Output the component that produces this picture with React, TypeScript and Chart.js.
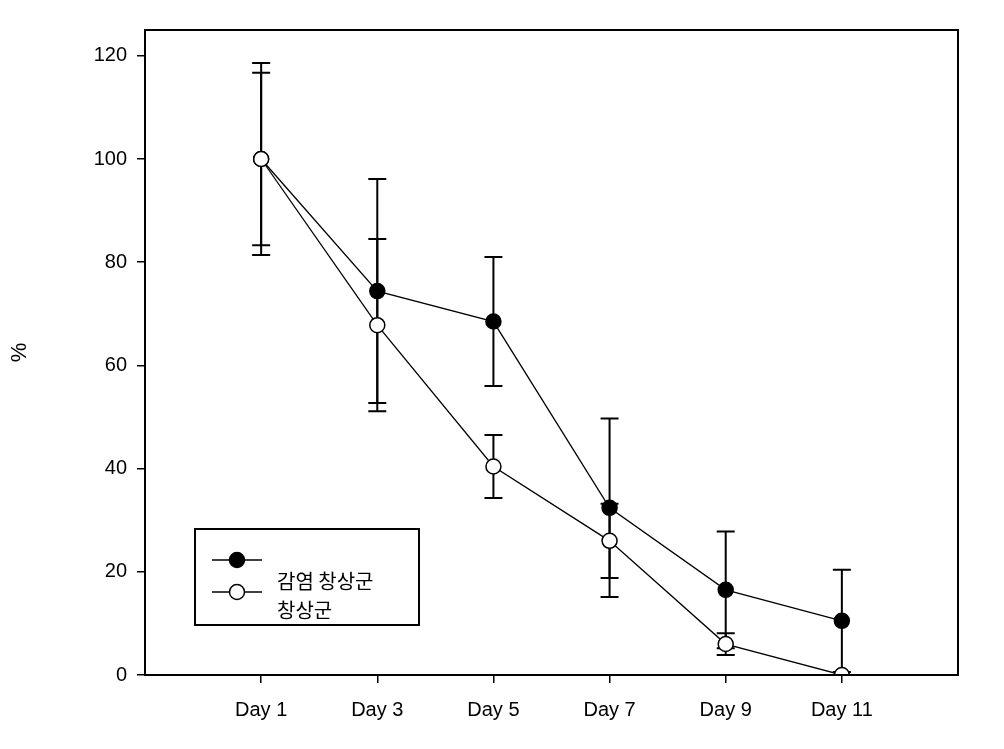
import React, { useEffect, useRef } from "react";
import { Chart, registerables } from "chart.js";

Chart.register(...registerables);

const dayLabels = ["Day 1", "Day 3", "Day 5", "Day 7", "Day 9", "Day 11"];
const dayPositions = [1, 2, 3, 4, 5, 6];
const yTicks = [0, 20, 40, 60, 80, 100, 120];

const infectedLabel = "감염 창상군";
const infectedMean = [100, 74.4, 68.5, 32.4, 16.5, 10.5];
const infectedErr = [18.6, 21.7, 12.5, 17.3, 11.3, 9.9];

const woundLabel = "창상군";
const woundMean = [100, 67.8, 40.4, 26.0, 6.0, 0];
const woundErr = [16.7, 16.7, 6.1, 7.2, 2.1, 0];

const FONT = "'Liberation Sans', Arial, sans-serif";

const errorBarPlugin = {
  id: "errorBars",
  beforeDatasetsDraw(chart: any) {
    const { ctx, scales } = chart;
    const x = scales.x;
    const y = scales.y;
    const series = [
      { mean: infectedMean, err: infectedErr },
      { mean: woundMean, err: woundErr },
    ];
    ctx.save();
    ctx.strokeStyle = "#000";
    ctx.lineWidth = 2;
    const cap = 9;
    series.forEach((s) => {
      s.mean.forEach((m, i) => {
        const e = s.err[i];
        if (!e) return;
        const px = x.getPixelForValue(dayPositions[i]);
        const top = y.getPixelForValue(m + e);
        const bot = y.getPixelForValue(m - e);
        ctx.beginPath();
        ctx.moveTo(px, top);
        ctx.lineTo(px, bot);
        ctx.moveTo(px - cap, top);
        ctx.lineTo(px + cap, top);
        ctx.moveTo(px - cap, bot);
        ctx.lineTo(px + cap, bot);
        ctx.stroke();
      });
    });
    ctx.restore();
  },
};

const framePlugin = {
  id: "frameAndLegend",
  afterDraw(chart: any) {
    const { ctx, chartArea } = chart;
    const { left, right, top, bottom } = chartArea;
    ctx.save();
    ctx.strokeStyle = "#000";
    ctx.lineWidth = 2;
    ctx.strokeRect(left, top, right - left, bottom - top);

    // legend box
    const bx = left + 50;
    const by = bottom - 146;
    const bw = 224;
    const bh = 96;
    ctx.fillStyle = "#fff";
    ctx.fillRect(bx, by, bw, bh);
    ctx.lineWidth = 2;
    ctx.strokeRect(bx, by, bw, bh);

    const entries = [
      { fill: "#000", y: by + 31, label: infectedLabel, ty: by + 52 },
      { fill: "#fff", y: by + 63, label: woundLabel, ty: by + 81 },
    ];
    entries.forEach((en) => {
      ctx.beginPath();
      ctx.lineWidth = 1.5;
      ctx.moveTo(bx + 17, en.y);
      ctx.lineTo(bx + 67, en.y);
      ctx.stroke();
      ctx.beginPath();
      ctx.arc(bx + 42, en.y, 7.5, 0, Math.PI * 2);
      ctx.fillStyle = en.fill;
      ctx.fill();
      ctx.lineWidth = 1.5;
      ctx.stroke();
      ctx.fillStyle = "#000";
      ctx.font = "20px 'Noto Sans CJK KR', sans-serif";
      ctx.textBaseline = "middle";
      ctx.textAlign = "left";
      ctx.fillText(en.label, bx + 82, en.ty);
    });
    ctx.restore();
  },
};

export default function App() {
  const ref = useRef<HTMLCanvasElement | null>(null);

  useEffect(() => {
    document.body.style.margin = "0";
    const canvas = ref.current!;
    const chart = new Chart(canvas, {
      type: "line",
      data: {
        datasets: [
          {
            label: woundLabel,
            data: woundMean.map((v, i) => ({ x: dayPositions[i], y: v })),
            borderColor: "#000",
            borderWidth: 1.3,
            pointRadius: 7.5,
            pointBorderWidth: 1.5,
            pointBackgroundColor: "#fff",
            pointBorderColor: "#000",
            backgroundColor: "#fff",
            fill: false,
            tension: 0,
            order: 0,
          },
          {
            label: infectedLabel,
            data: infectedMean.map((v, i) => ({ x: dayPositions[i], y: v })),
            borderColor: "#000",
            borderWidth: 1.3,
            pointRadius: 7.5,
            pointBorderWidth: 1.5,
            pointBackgroundColor: "#000",
            pointBorderColor: "#000",
            backgroundColor: "#000",
            fill: false,
            tension: 0,
            order: 1,
          },
        ],
      },
      options: {
        responsive: false,
        animation: false,
        layout: { padding: { left: 0, right: 46, top: 30, bottom: 0 } },
        plugins: {
          legend: { display: false },
          tooltip: { enabled: false },
        },
        scales: {
          x: {
            type: "linear",
            min: 0,
            max: 7,
            afterBuildTicks: (axis: any) => {
              axis.ticks = dayPositions.map((v) => ({ value: v }));
            },
            afterFit: (axis: any) => {
              axis.height = 74;
            },
            ticks: {
              callback: (v: any) => {
                const i = dayPositions.indexOf(Number(v));
                return i >= 0 ? dayLabels[i] : "";
              },
              color: "#000",
              font: { family: FONT, size: 20 },
              padding: 15,
              maxRotation: 0,
              autoSkip: false,
            },
            grid: {
              display: true,
              drawOnChartArea: false,
              drawTicks: true,
              tickLength: 8,
              color: "#000",
              lineWidth: 1.5,
            },
            border: { display: true, color: "#000", width: 2 },
          },
          y: {
            type: "linear",
            min: 0,
            max: 125,
            afterBuildTicks: (axis: any) => {
              axis.ticks = yTicks.map((v) => ({ value: v }));
            },
            afterFit: (axis: any) => {
              axis.width = 145;
            },
            ticks: {
              color: "#000",
              font: { family: FONT, size: 20 },
              padding: 10,
            },
            grid: {
              display: true,
              drawOnChartArea: false,
              drawTicks: true,
              tickLength: 8,
              color: "#000",
              lineWidth: 1.5,
            },
            border: { display: true, color: "#000", width: 2 },
            title: {
              display: true,
              text: "%",
              color: "#000",
              font: { family: FONT, size: 22 },
              padding: { top: 7, bottom: 4 },
            },
          },
        },
      },
      plugins: [errorBarPlugin, framePlugin],
    });
    return () => chart.destroy();
  }, []);

  return (
    <div style={{ width: 1004, height: 749, background: "#fff" }}>
      <canvas ref={ref} width={1004} height={749} style={{ display: "block" }} />
    </div>
  );
}
